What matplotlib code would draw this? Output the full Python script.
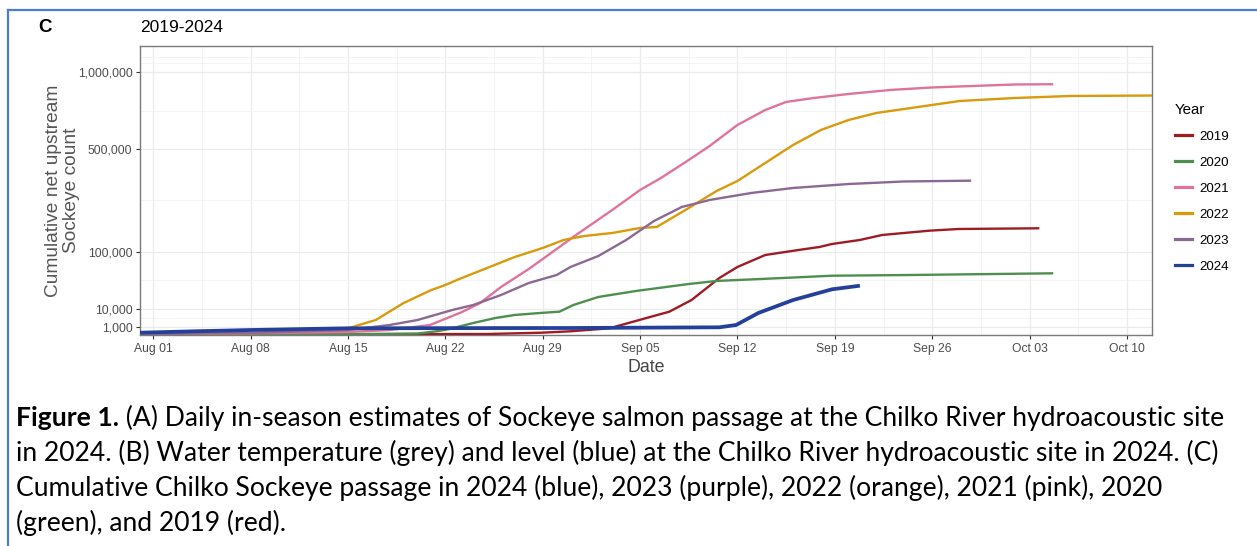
import numpy as np
import pandas as pd
import matplotlib
matplotlib.use("Agg")
import matplotlib.pyplot as plt
import matplotlib.dates as mdates
from matplotlib.lines import Line2D
from matplotlib.ticker import FixedLocator, FuncFormatter

plt.rcParams['font.family'] = ['Liberation Sans', 'DejaVu Sans']

season_start = pd.Timestamp("2024-08-01")

# days after Aug 01 and cumulative net upstream counts, one pair per year
days_2019 = [-1, 14, 24, 27.9, 30, 32.8, 35.2, 37.1, 38.7, 40.7, 42, 44, 46.4,
             47.9, 48.8, 50.8, 52.4, 55.8, 57.9, 63.7]
count_2019 = [5, 10, 14, 76, 200, 650, 3700, 7850, 17700, 47000, 66900, 92500,
              104500, 112000, 119700, 130500, 144600, 157300, 162400, 164600]

days_2020 = [-1, 14, 19, 20.5, 21.3, 23, 24.6, 26, 27.8, 29.2, 30.2, 32, 34.7,
             38.5, 40.5, 45.3, 48.8, 54.3, 64.7]
count_2020 = [5, 10, 30, 230, 520, 2080, 4180, 5800, 7000, 7850, 13000, 20900,
              28000, 37600, 42200, 47000, 50800, 52000, 55000]

days_2021 = [-1, 7, 14, 17, 19.9, 22.2, 23.5, 25, 27, 27.9, 30.4, 33, 35, 36.5,
             38.5, 40, 42, 44, 45.5, 47.5, 50, 53, 56, 59, 62, 64.7]
count_2021 = [10, 40, 130, 361, 1445, 7650, 14800, 33300, 63000, 81300, 144600,
              225900, 304000, 356300, 442700, 516400, 637600, 731900, 785000,
              812000, 839700, 867800, 885500, 896400, 907200, 908700]

days_2022 = [-1, 7, 14, 16, 18, 20, 21, 22, 24, 26, 28, 29.5, 31, 33, 35, 36.2,
             38.5, 40.5, 42, 44, 46, 48, 50, 52, 55, 58, 62, 66, 73]
count_2022 = [10, 58, 650, 3250, 14800, 29300, 36100, 45300, 64900, 88000,
              109400, 130500, 141700, 150400, 165500, 168600, 233200, 299800,
              342900, 427700, 521900, 607600, 668300, 712600, 751600, 791600,
              812000, 825800, 829200]

days_2023 = [-1, 7, 14, 17, 19, 20.5, 21.5, 23, 25, 27, 29, 30, 32, 34, 36, 38,
             40, 43, 46, 50, 54, 58.8]
count_2023 = [10, 58, 361, 1445, 3250, 6370, 9040, 13000, 23100, 39100, 52000,
              66900, 90200, 130500, 187900, 236900, 263500, 291500, 312400,
              329500, 340700, 344200]

days_2024 = [-1, 3, 7, 11, 14, 20, 30, 40.7, 41.9, 43.5, 46, 48.8, 50.8]
count_2024 = [76, 200, 361, 520, 650, 680, 708, 857, 1445, 7000, 17700, 30200,
              35100]

years = ["2019", "2020", "2021", "2022", "2023", "2024"]
year_days = [days_2019, days_2020, days_2021, days_2022, days_2023, days_2024]
year_counts = [count_2019, count_2020, count_2021, count_2022, count_2023, count_2024]
year_colors = ["#9E1C24", "#4E8F50", "#E0739C", "#D99A0B", "#8B6992", "#24409A"]
year_widths = [1.7, 1.7, 1.7, 1.7, 1.7, 2.7]

y_breaks = [1000, 10000, 100000, 500000, 1000000]
y_minor = [4330, 43300, 262000, 728000, 1069000, 1117000]

W, H = 1257, 546
fig = plt.figure(figsize=(W / 100, H / 100), dpi=100)
ax = fig.add_axes([140 / W, 1 - 335 / H, (1152 - 140) / W, (335 - 46) / H])

for days, counts, col, lw in zip(year_days, year_counts, year_colors, year_widths):
    dates = season_start + pd.to_timedelta(days, unit="D")
    ax.plot(dates, counts, color=col, lw=lw, solid_capstyle="butt", zorder=3)

# square-root y axis
ax.set_yscale("function", functions=(lambda v: np.sqrt(np.clip(v, 0, None)),
                                     lambda v: np.square(v)))
ax.set_ylim(0, 1207000)
ax.yaxis.set_major_locator(FixedLocator(y_breaks))
ax.yaxis.set_minor_locator(FixedLocator(y_minor))
ax.yaxis.set_major_formatter(FuncFormatter(lambda v, p: f"{int(v):,}"))

x0 = season_start - pd.Timedelta(days=0.95)
x1 = season_start + pd.Timedelta(days=71.8)
ax.set_xlim(x0, x1)
week_ticks = pd.date_range("2024-08-01", "2024-10-10", freq="7D")
half_ticks = week_ticks + pd.Timedelta(days=3.5)
ax.xaxis.set_major_locator(FixedLocator(mdates.date2num(week_ticks)))
ax.xaxis.set_minor_locator(FixedLocator(mdates.date2num(half_ticks)))
ax.xaxis.set_major_formatter(mdates.DateFormatter("%b %d"))

ax.grid(which="major", color="#EBEBEB", lw=0.9, zorder=0)
ax.grid(which="minor", color="#F2F2F2", lw=0.6, zorder=0)
ax.set_axisbelow(True)
for s in ax.spines.values():
    s.set_color("#7A7A7A")
    s.set_linewidth(1.0)
ax.tick_params(which="major", length=3, width=0.8, color="#333333",
               labelsize=8.7, labelcolor="#4D4D4D", pad=2.5)
ax.tick_params(which="minor", length=0)

ax.set_xlabel("Date", fontsize=12.8, color="#444444", labelpad=3)
ax.set_ylabel("Cumulative net upstream\nSockeye count", fontsize=13.8,
              color="#555555", linespacing=1.05)
ax.yaxis.set_label_coords((80 - 140) / 1012, 0.5)

fig.text(45 / W, 1 - 27 / H, "C", fontsize=13.5, fontweight="bold",
         ha="center", va="center")
fig.text(140 / W, 1 - 27 / H, "2019-2024", fontsize=12.5, ha="left", va="center")

handles = [Line2D([], [], color=c, lw=2.3) for c in year_colors]
leg = ax.legend(handles, years, title="Year", loc="upper left",
                bbox_to_anchor=(1175 / W, 1 - 103 / H), bbox_transform=fig.transFigure,
                frameon=False, fontsize=9.6, title_fontsize=10.8, alignment="left",
                handlelength=1.3, handletextpad=0.55, labelspacing=1.02,
                borderaxespad=0, borderpad=0)

# caption under the panel
cap_font = ["Lato", "DejaVu Sans"]
cap_lines = [
    ("Figure 1.", " (A) Daily in-season estimates of Sockeye salmon passage at the Chilko River hydroacoustic site"),
    ("", "in 2024. (B) Water temperature (grey) and level (blue) at the Chilko River hydroacoustic site in 2024. (C)"),
    ("", "Cumulative Chilko Sockeye passage in 2024 (blue), 2023 (purple), 2022 (orange), 2021 (pink), 2020"),
    ("", "(green), and 2019 (red)."),
]
cap_y = [418, 453, 488, 523]

renderer = fig.canvas.get_renderer()
probe = fig.text(0, 0, cap_lines[0][0] + cap_lines[0][1], fontsize=16, family=cap_font)
cap_size = 16 * 1212 / probe.get_window_extent(renderer).width
probe.remove()

for (bold, rest), yy in zip(cap_lines, cap_y):
    x = 16
    if bold:
        t = fig.text(x / W, 1 - yy / H, bold, fontsize=cap_size, family=cap_font,
                     fontweight="bold", va="center", ha="left")
        x = t.get_window_extent(renderer).x1
    fig.text(x / W, 1 - yy / H, rest, fontsize=cap_size, family=cap_font,
             va="center", ha="left")

# blue frame around the figure
frame_col = "#4A7DD2"
fig.add_artist(Line2D([8 / W, 8 / W], [0, 1 - 10 / H], transform=fig.transFigure,
                      color=frame_col, lw=1.6))
fig.add_artist(Line2D([8 / W, 1], [1 - 10 / H, 1 - 10 / H], transform=fig.transFigure,
                      color=frame_col, lw=1.6))

fig.savefig("out.png", dpi=100)
